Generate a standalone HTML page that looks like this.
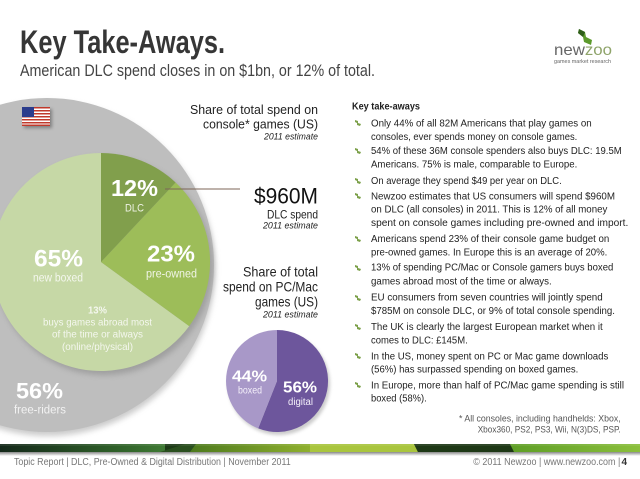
<!DOCTYPE html>
<html><head><meta charset="utf-8"><style>
html,body{margin:0;padding:0;background:#fff;}
svg{display:block;}
text{font-family:"Liberation Sans",sans-serif;}
</style></head><body>
<svg width="640" height="479" viewBox="0 0 640 479" xmlns="http://www.w3.org/2000/svg">
<defs>
<filter id="sh" x="-20%" y="-20%" width="140%" height="140%"><feGaussianBlur stdDeviation="3"/></filter>
<filter id="sh2" x="-50%" y="-50%" width="200%" height="200%"><feGaussianBlur stdDeviation="1.5"/></filter>
<linearGradient id="bandL" x1="0" x2="1" y1="0" y2="0"><stop offset="0" stop-color="#14281a"/><stop offset="0.7" stop-color="#2f6029"/><stop offset="1" stop-color="#3f7a34"/></linearGradient>
<linearGradient id="bandB" x1="0" x2="1" y1="0" y2="0"><stop offset="0" stop-color="#4d7a1e"/><stop offset="1" stop-color="#8fb02e"/></linearGradient>
<linearGradient id="bandE" x1="0" x2="1" y1="0" y2="0"><stop offset="0" stop-color="#5e9e26"/><stop offset="1" stop-color="#8bbf3c"/></linearGradient>
<linearGradient id="bshadow" x1="0" x2="0" y1="0" y2="1"><stop offset="0" stop-color="#888"/><stop offset="1" stop-color="#fff"/></linearGradient>
</defs>
<rect width="640" height="479" fill="#fff"/>

<!-- Title -->
<text x="20" y="53" font-size="32" font-weight="bold" fill="#363636" textLength="205" lengthAdjust="spacingAndGlyphs">Key Take-Aways.</text>
<text x="20" y="76" font-size="17" fill="#444" textLength="355" lengthAdjust="spacingAndGlyphs">American DLC spend closes in on $1bn, or 12% of total.</text>

<!-- Logo -->
<polygon points="579,29 585,32 586,37 592,40 591,45 584,42 583,37 578,33" fill="#5c9a2c"/>
<polygon points="579,29 585,32 583,37 578,33" fill="#2f5e1a"/>
<text x="554" y="55" font-size="16" fill="#666" textLength="58" lengthAdjust="spacingAndGlyphs">new<tspan fill="#8fa46a">zoo</tspan></text>
<text x="554" y="63" font-size="5" fill="#666" textLength="57" lengthAdjust="spacingAndGlyphs">games market research</text>

<!-- Big gray pie -->
<circle cx="48" cy="269" r="167" fill="#999" opacity="0.5" filter="url(#sh)"/>
<circle cx="47" cy="265" r="167" fill="#bebebe"/>
<!-- green pie shadow -->
<circle cx="104" cy="266" r="109" fill="#8a8a8a" opacity="0.6" filter="url(#sh)"/>
<path d="M101,262 L189.2,326.1 A109,109 0 1 1 101,153 Z" fill="#c6d8a6"/>
<path d="M101,262 L175.6,182.5 A109,109 0 0 1 189.2,326.1 Z" fill="#9dbd59"/>
<path d="M101,262 L101,153 A109,109 0 0 1 175.6,182.5 Z" fill="#819f4c"/>

<!-- Flag -->
<rect x="24" y="109" width="28" height="19" fill="#555" opacity="0.6" filter="url(#sh2)"/>
<rect x="22" y="107" width="28" height="19" fill="#fff"/>
<g fill="#c0392b">
<rect x="22" y="107" width="28" height="1.5"/><rect x="22" y="110" width="28" height="1.5"/><rect x="22" y="113" width="28" height="1.5"/><rect x="22" y="116" width="28" height="1.5"/><rect x="22" y="119" width="28" height="1.5"/><rect x="22" y="122" width="28" height="1.5"/><rect x="22" y="124.5" width="28" height="1.5"/>
</g>
<rect x="22" y="107" width="12" height="10" fill="#2b3c8c"/>

<!-- green pie labels -->
<text x="111" y="196" font-size="23" font-weight="bold" fill="#fff" textLength="47" lengthAdjust="spacingAndGlyphs">12%</text>
<text x="125" y="211.7" font-size="11" fill="#eef2e4" textLength="19" lengthAdjust="spacingAndGlyphs">DLC</text>
<text x="147" y="261.7" font-size="23" font-weight="bold" fill="#fff" textLength="48" lengthAdjust="spacingAndGlyphs">23%</text>
<text x="146" y="277.7" font-size="11.5" fill="#f0f4e6" textLength="51" lengthAdjust="spacingAndGlyphs">pre-owned</text>
<text x="34" y="266.7" font-size="24" font-weight="bold" fill="#fff" textLength="49" lengthAdjust="spacingAndGlyphs">65%</text>
<text x="33" y="281.7" font-size="11.5" fill="#f4f7ee" textLength="50" lengthAdjust="spacingAndGlyphs">new boxed</text>
<text x="88" y="313.3" font-size="10" font-weight="bold" fill="#f4f7ee" textLength="19" lengthAdjust="spacingAndGlyphs">13%</text>
<text x="43" y="325.7" font-size="10.5" fill="#f4f7ee" textLength="109" lengthAdjust="spacingAndGlyphs">buys games abroad most</text>
<text x="52" y="337.7" font-size="10.5" fill="#f4f7ee" textLength="91" lengthAdjust="spacingAndGlyphs">of the time or always</text>
<text x="62" y="350" font-size="10.5" fill="#f4f7ee" textLength="71" lengthAdjust="spacingAndGlyphs">(online/physical)</text>
<text x="16" y="398.3" font-size="22" font-weight="bold" fill="#fff" textLength="47" lengthAdjust="spacingAndGlyphs">56%</text>
<text x="14" y="413.3" font-size="11.5" fill="#f2f2f2" textLength="52" lengthAdjust="spacingAndGlyphs">free-riders</text>

<!-- DLC line -->
<line x1="165" y1="189" x2="240" y2="189" stroke="#7d6657" stroke-width="1"/>

<!-- Middle texts -->
<text x="190" y="114" font-size="13" fill="#222" textLength="128" lengthAdjust="spacingAndGlyphs">Share of total spend on</text>
<text x="203" y="128.3" font-size="13" fill="#222" textLength="115" lengthAdjust="spacingAndGlyphs">console* games (US)</text>
<text x="264" y="139.3" font-size="9.5" font-style="italic" fill="#222" textLength="54" lengthAdjust="spacingAndGlyphs">2011 estimate</text>
<text x="254" y="203.3" font-size="22" fill="#111" textLength="64" lengthAdjust="spacingAndGlyphs">$960M</text>
<text x="267" y="218.3" font-size="12" fill="#222" textLength="51" lengthAdjust="spacingAndGlyphs">DLC spend</text>
<text x="263" y="228.3" font-size="9.5" font-style="italic" fill="#222" textLength="55" lengthAdjust="spacingAndGlyphs">2011 estimate</text>
<text x="243" y="276.7" font-size="14" fill="#222" textLength="75" lengthAdjust="spacingAndGlyphs">Share of total</text>
<text x="223" y="291.7" font-size="14" fill="#222" textLength="95" lengthAdjust="spacingAndGlyphs">spend on PC/Mac</text>
<text x="255" y="306.7" font-size="14" fill="#222" textLength="63" lengthAdjust="spacingAndGlyphs">games (US)</text>
<text x="263" y="317.3" font-size="9.5" font-style="italic" fill="#222" textLength="55" lengthAdjust="spacingAndGlyphs">2011 estimate</text>

<!-- Purple pie -->
<circle cx="279" cy="384" r="51" fill="#999" opacity="0.5" filter="url(#sh2)"/>
<path d="M277,381 L277,330 A51,51 0 1 1 258.2,428.4 Z" fill="#6d569c"/>
<path d="M277,381 L258.2,428.4 A51,51 0 0 1 277,330 Z" fill="#a898c8"/>
<text x="232" y="381.7" font-size="16" font-weight="bold" fill="#fff" textLength="35" lengthAdjust="spacingAndGlyphs">44%</text>
<text x="238" y="393.3" font-size="10" fill="#f4f0fa" textLength="24" lengthAdjust="spacingAndGlyphs">boxed</text>
<text x="283" y="392.3" font-size="16" font-weight="bold" fill="#fff" textLength="34" lengthAdjust="spacingAndGlyphs">56%</text>
<text x="288" y="405" font-size="10" fill="#f4f0fa" textLength="25" lengthAdjust="spacingAndGlyphs">digital</text>

<!-- Right column -->
<text x="352" y="109.5" font-size="10" font-weight="bold" fill="#222" textLength="68" lengthAdjust="spacingAndGlyphs">Key take-aways</text>
<g fill="#7ca04a">
<path d="M355,120 l3,1 l0,2 l3,1 l-1,2 l-3,-1 l0,-2 l-2,-1z"/>
<path d="M355,148 l3,1 l0,2 l3,1 l-1,2 l-3,-1 l0,-2 l-2,-1z"/>
<path d="M355,178 l3,1 l0,2 l3,1 l-1,2 l-3,-1 l0,-2 l-2,-1z"/>
<path d="M355,193 l3,1 l0,2 l3,1 l-1,2 l-3,-1 l0,-2 l-2,-1z"/>
<path d="M355,236 l3,1 l0,2 l3,1 l-1,2 l-3,-1 l0,-2 l-2,-1z"/>
<path d="M355,265 l3,1 l0,2 l3,1 l-1,2 l-3,-1 l0,-2 l-2,-1z"/>
<path d="M355,295 l3,1 l0,2 l3,1 l-1,2 l-3,-1 l0,-2 l-2,-1z"/>
<path d="M355,324 l3,1 l0,2 l3,1 l-1,2 l-3,-1 l0,-2 l-2,-1z"/>
<path d="M355,353 l3,1 l0,2 l3,1 l-1,2 l-3,-1 l0,-2 l-2,-1z"/>
<path d="M355,382 l3,1 l0,2 l3,1 l-1,2 l-3,-1 l0,-2 l-2,-1z"/>
</g>
<g font-size="10" fill="#222">
<text x="371" y="126.5" textLength="220.7" lengthAdjust="spacingAndGlyphs">Only 44% of all 82M Americans that play games on</text>
<text x="371" y="139.8" textLength="206.3" lengthAdjust="spacingAndGlyphs">consoles, ever spends money on console games.</text>
<text x="371" y="154" textLength="250.7" lengthAdjust="spacingAndGlyphs">54% of these 36M console spenders also buys DLC: 19.5M</text>
<text x="371" y="167.3" textLength="206.3" lengthAdjust="spacingAndGlyphs">Americans. 75% is male, comparable to Europe.</text>
<text x="371" y="184" textLength="190.7" lengthAdjust="spacingAndGlyphs">On average they spend $49 per year on DLC.</text>
<text x="371" y="199.3" textLength="244" lengthAdjust="spacingAndGlyphs">Newzoo estimates that US consumers will spend $960M</text>
<text x="371" y="212.7" textLength="236.3" lengthAdjust="spacingAndGlyphs">on DLC (all consoles) in 2011. This is 12% of all money</text>
<text x="371" y="226" textLength="257.3" lengthAdjust="spacingAndGlyphs">spent on console games including pre-owned and import.</text>
<text x="371" y="242" textLength="238.3" lengthAdjust="spacingAndGlyphs">Americans spend 23% of their console game budget on</text>
<text x="371" y="255.3" textLength="236.3" lengthAdjust="spacingAndGlyphs">pre-owned games. In Europe this is an average of 20%.</text>
<text x="371" y="270.7" textLength="242.3" lengthAdjust="spacingAndGlyphs">13% of spending PC/Mac or Console gamers buys boxed</text>
<text x="371" y="284.3" textLength="180.7" lengthAdjust="spacingAndGlyphs">games abroad most of the time or always.</text>
<text x="371" y="300.7" textLength="231.7" lengthAdjust="spacingAndGlyphs">EU consumers from seven countries will jointly spend</text>
<text x="371" y="314" textLength="244" lengthAdjust="spacingAndGlyphs">$785M on console DLC, or 9% of total console spending.</text>
<text x="371" y="330" textLength="231.7" lengthAdjust="spacingAndGlyphs">The UK is clearly the largest European market when it</text>
<text x="371" y="343.3" textLength="96.7" lengthAdjust="spacingAndGlyphs">comes to DLC: £145M.</text>
<text x="371" y="359.3" textLength="237.3" lengthAdjust="spacingAndGlyphs">In the US, money spent on PC or Mac game downloads</text>
<text x="371" y="372.7" textLength="207.3" lengthAdjust="spacingAndGlyphs">(56%) has surpassed spending on boxed games.</text>
<text x="371" y="388.3" textLength="253" lengthAdjust="spacingAndGlyphs">In Europe, more than half of PC/Mac game spending is still</text>
<text x="371" y="401.7" textLength="55.7" lengthAdjust="spacingAndGlyphs">boxed (58%).</text>
</g>
<text x="459" y="421.7" font-size="9.5" fill="#555" textLength="161.7" lengthAdjust="spacingAndGlyphs">* All consoles, including handhelds: Xbox,</text>
<text x="477.7" y="432.7" font-size="9.5" fill="#555" textLength="143" lengthAdjust="spacingAndGlyphs">Xbox360, PS2, PS3, Wii, N(3)DS, PSP.</text>

<!-- Footer band -->
<rect x="0" y="452" width="640" height="4" fill="url(#bshadow)"/>
<rect x="0" y="444" width="640" height="8" fill="#1d3a17"/>
<rect x="0" y="444" width="165" height="8" fill="url(#bandL)"/>
<polygon points="160,452 185,444 196,444 196,452" fill="#2a4f1f"/>
<polygon points="190,452 196,444 310,444 310,452" fill="url(#bandB)"/>
<polygon points="310,444 414,444 418,452 310,452" fill="#a9c53e"/>
<polygon points="414,444 510,444 514,452 418,452" fill="#1e3816"/>
<polygon points="510,444 640,444 640,452 514,452" fill="url(#bandE)"/>
<rect x="0" y="444" width="640" height="2" fill="#fff" opacity="0.08"/>

<!-- Footer text -->
<text x="14" y="465" font-size="10" fill="#777" textLength="276.7" lengthAdjust="spacingAndGlyphs">Topic Report | DLC, Pre-Owned &amp; Digital Distribution | November 2011</text>
<text x="473.3" y="465" font-size="10" fill="#777" textLength="147" lengthAdjust="spacingAndGlyphs">© 2011 Newzoo | www.newzoo.com |</text>
<text x="621.5" y="465" font-size="10" font-weight="bold" fill="#333">4</text>
</svg>
</body></html>
